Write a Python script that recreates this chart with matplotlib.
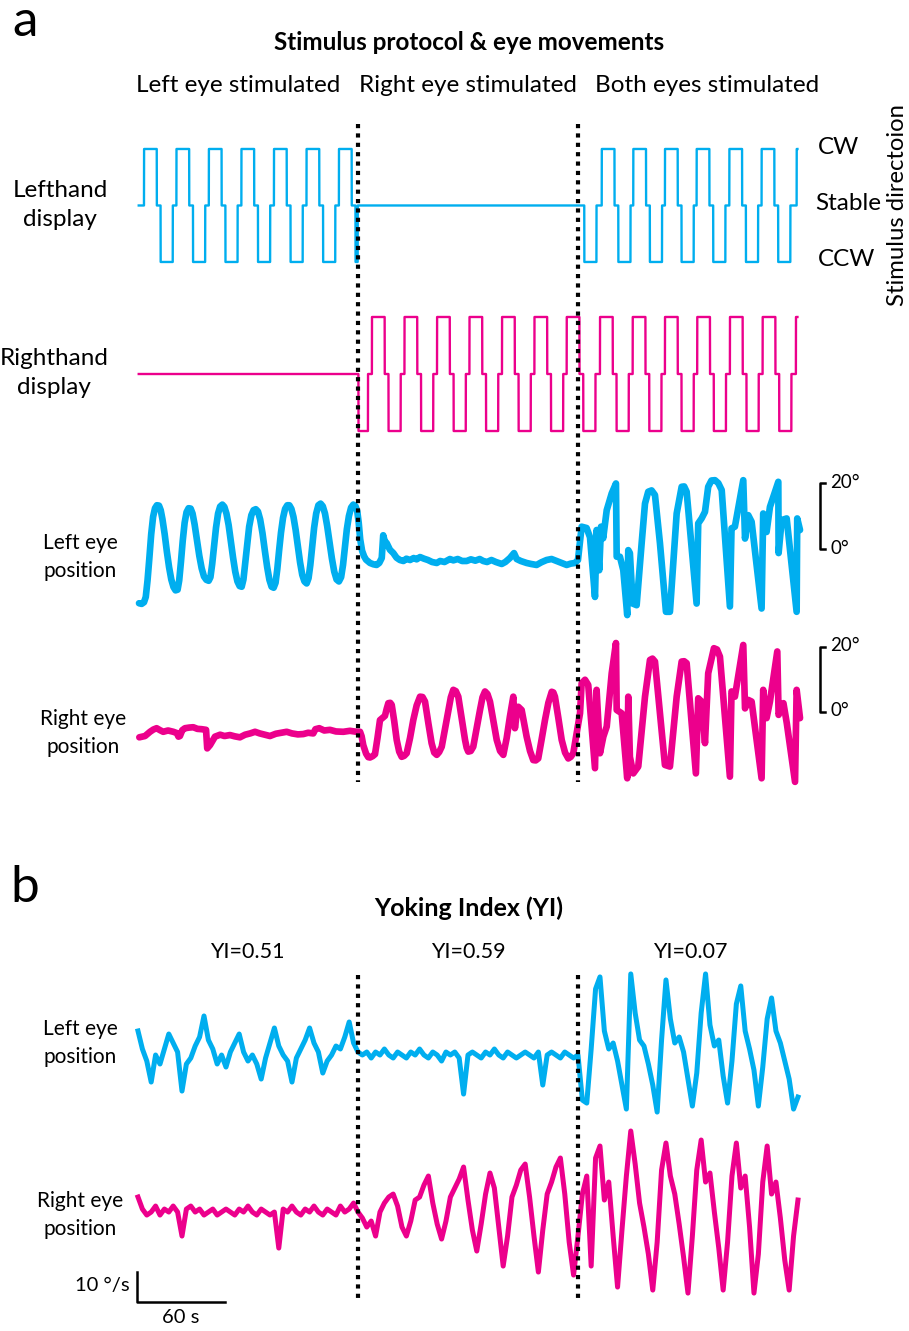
import numpy as np
import matplotlib.pyplot as plt

plt.rcParams['font.family'] = ['Lato', 'DejaVu Sans']

BLUE = '#00AEEF'
PINK = '#EC008C'

# ---- stimulus protocol (seconds) ----
phase_levels = [1, 0, -1, 0]          # CW, stable, CCW, stable
phase_secs = [8.7, 2.6, 8.3, 2.4]
left_cw_onsets = [4.1, 26.2, 48.3, 70.5, 92.7, 114.9, 137.0,
                  293.0, 316.2, 337.7, 359.3, 380.9, 403.2, 425.2, 449.1]
left_windows = [(0.0, 149.8), (302.0, 452.0)]
right_cw_onsets = [137.2, 159.5, 181.7, 203.9, 226.0, 248.2, 270.3,
                   292.3, 315.0, 337.3, 359.3, 381.3, 403.6, 425.9, 448.6]
right_windows = [(150.3, 452.0)]
block_bounds = [150, 300]

# ---- a: eye position (deg) ----
left_pos_t = [0.7, 2.5, 4.1, 5.3, 6.5, 7.7, 9.0, 10.3, 11.6, 12.9, 14.3, 15.5,
              16.7, 18.2, 19.7, 21.2, 22.7, 24.2, 25.6, 27.0, 28.1, 29.3, 30.5,
              31.8, 33.1, 34.5, 35.9, 37.2, 38.6, 40.2, 41.8, 43.4, 45.0, 46.6,
              48.2, 49.4, 50.6, 51.9, 53.2, 54.6, 56.0, 57.5, 58.9, 60.3, 61.8,
              63.3, 64.8, 66.3, 67.8, 69.3, 70.7, 71.9, 73.1, 74.4, 75.8, 77.3,
              78.8, 80.3, 81.8, 83.3, 84.9, 86.5, 88.1, 89.6, 91.1, 92.5, 93.8,
              95.0, 96.2, 97.5, 98.9, 100.3, 101.8, 103.2, 104.6, 106.0, 107.5,
              109.0, 110.5, 112.0, 113.5, 115.0, 116.3, 117.5, 118.8, 120.1, 121.5,
              123.0, 124.5, 126.0, 127.5, 129.0, 130.6, 132.2, 133.8, 135.4, 137.0,
              138.5, 139.8, 141.1, 142.4, 143.8, 145.3, 146.8, 148.3, 149.5, 150.5,
              151.5, 152.8, 154.2, 155.5, 158.2, 160.5, 162.7, 164.5, 166.2, 167.2,
              168.2, 169.6, 171.8, 174.1, 176.3, 178.6, 181.0, 183.0, 185.5, 188.0,
              190.0, 192.3, 195.0, 197.7, 200.5, 203.7, 206.0, 209.0, 212.7, 215.0,
              218.0, 221.0, 224.1, 227.0, 230.0, 233.0, 235.4, 238.0, 241.0, 244.0,
              248.0, 250.5, 253.6, 256.4, 258.2, 261.0, 265.0, 268.0, 271.8, 275.0,
              278.6, 282.0, 285.5, 289.0, 292.3, 295.0, 297.9, 300.0,
              302.5, 305.9, 308.2, 311.6, 312.7, 314.5, 315.7, 317.2, 319.6, 323.0,
              325.9, 326.4, 328.6, 330.9, 333.6, 334.3, 335.4, 337.3, 340.0, 343.4,
              345.7, 347.9, 350.2, 352.5, 355.9, 360.0, 362.7, 367.3, 370.7, 372.4,
              374.1, 380.9, 382.0, 384.3, 386.6, 388.8, 391.0, 393.4, 395.7, 398.0,
              403.6, 404.7, 407.0, 412.7, 413.9, 416.1, 418.4, 425.2, 426.3, 428.6,
              430.9, 436.6, 436.8, 438.9, 442.3, 449.1, 449.5, 451.4]
left_pos = [-16.4, -16.6, -16.1, -14.5, -9.5, -3.0, 4.5, 9.8, 12.4, 13.3, 13.2, 11.8,
            9.0, 4.5, -0.8, -5.5, -9.2, -11.5, -12.5, -12.3, -9.5, -3.8, 2.5,
            8.0, 11.2, 12.4, 12.3, 10.8, 7.5, 2.8, -2.0, -5.8, -8.3, -9.3,
            -9.6, -8.5, -4.5, 1.0, 6.5, 10.8, 12.9, 13.5, 12.8, 10.8, 7.3,
            2.5, -2.5, -6.8, -9.8, -11.2, -11.4, -9.2, -4.2, 1.5, 6.8, 10.3,
            11.8, 12.1, 11.4, 9.0, 4.8, -0.5, -5.5, -9.3, -11.4, -11.7, -10.2,
            -6.0, -0.5, 5.0, 9.5, 12.2, 13.3, 13.3, 12.2, 9.8, 5.8,
            0.8, -4.0, -7.8, -9.8, -10.4, -8.8, -4.8, 0.8, 6.5, 10.8,
            13.3, 13.8, 13.0, 10.8, 7.0, 2.2, -2.8, -6.8, -9.2, -9.8,
            -8.5, -4.8, 0.5, 6.0, 10.0, 12.6, 13.5, 13.0, 11.5, 8.0,
            3.0, -0.5, -2.2, -3.2, -4.2, -4.6, -4.8, -4.2, -2.7, 4.2,
            2.5, 1.8, -0.2, -1.2, -2.6, -3.3, -3.6, -2.9, -3.3, -2.7,
            -3.1, -2.4, -2.9, -3.3, -3.9, -4.2, -3.6, -3.9, -3.0, -3.4,
            -3.0, -3.6, -3.6, -3.1, -3.5, -3.0, -3.6, -3.9, -3.3, -3.9,
            -4.5, -3.9, -2.7, -1.2, -3.0, -3.6, -4.2, -4.5, -4.8, -4.0,
            -3.3, -3.0, -3.6, -4.2, -4.8, -4.4, -4.2, -3.3,
            6.8, 6.4, 3.6, -14.5, 5.8, -6.4, 6.8, 3.3, 11.8, 16.9,
            19.9, -2.3, -2.3, -6.4, -20.0, -0.3, -1.2, -16.5, -17.0, 1.7,
            13.8, 17.4, 17.8, 16.4, 1.8, -19.0, -19.0, 10.8, 18.9, 19.0,
            17.4, -16.5, 7.8, 9.3, 11.3, 18.9, 20.8, 20.9, 20.0, 17.9,
            -17.4, 6.3, 6.8, 20.9, 3.2, 10.3, 8.3, -18.0, 10.8, 5.2,
            12.8, 20.4, -1.2, 8.8, 9.3, -19.0, 9.3, 5.8]

right_pos_t = [0.9, 4.8, 8.2, 10.5, 12.7, 15.0, 17.2, 20.5, 24.1, 26.5, 27.6, 28.6,
               30.2, 32.0, 35.0, 37.7, 40.5, 43.4, 46.4, 47.2, 49.1, 52.5, 56.0,
               59.0, 62.7, 66.0, 69.5, 73.0, 76.5, 79.8, 83.0, 86.5, 90.0, 94.0,
               97.5, 101.4, 105.0, 109.0, 112.7, 116.0, 119.5, 121.0, 123.6, 127.0,
               130.9, 135.0, 140.0, 144.5, 149.1, 151.4,
               152.5, 153.6, 155.5, 157.0, 158.2, 160.0, 161.6, 163.3, 165.0, 166.8,
               168.4, 169.6, 170.7, 172.0, 173.0, 174.7, 176.4, 178.1, 179.8, 181.5,
               183.2, 185.5, 187.7, 190.0, 192.3, 194.0, 195.7, 198.0, 200.2, 202.0,
               203.7, 205.4, 207.1, 209.4, 211.6, 213.3, 215.0, 216.7, 218.4, 220.7,
               223.0, 224.1, 225.2, 226.9, 228.6, 230.9, 233.2, 234.9, 236.6, 238.3,
               240.0, 242.3, 244.6, 246.9, 249.1, 251.4, 253.6, 255.9, 257.0, 258.1,
               259.3, 261.6, 263.3, 265.0, 267.3, 269.5, 271.2, 272.9, 275.2, 277.5,
               279.8, 282.1, 283.2, 284.3, 286.6, 288.9, 291.2, 293.4, 295.1, 296.8,
               299.1, 301.4,
               302.5, 304.8, 307.0, 309.3, 311.6, 312.7, 315.0, 317.3, 319.6, 323.0,
               325.9, 326.4, 329.8, 333.6, 334.3, 335.4, 337.7, 341.1, 345.7, 349.1,
               350.8, 352.5, 355.9, 359.3, 362.7, 367.3, 370.7, 372.4, 374.1, 380.4,
               382.0, 384.3, 386.6, 388.8, 392.7, 394.8, 396.8, 403.6, 404.7, 407.0,
               412.7, 413.9, 416.1, 418.4, 425.2, 426.3, 428.6, 430.9, 435.9, 436.8,
               440.1, 442.4, 448.0, 449.1, 451.4]
right_pos = [-7.8, -7.4, -6.1, -5.4, -5.0, -5.6, -6.1, -5.7, -6.1, -6.5, -7.6, -7.4,
             -5.6, -5.0, -4.8, -4.7, -5.2, -5.3, -5.5, -11.2, -10.2, -7.6, -7.0,
             -7.4, -7.1, -7.5, -7.8, -7.0, -6.6, -6.1, -6.6, -7.0, -7.4, -6.7,
             -6.4, -6.1, -6.6, -6.9, -6.8, -6.4, -6.6, -5.3, -5.0, -5.7,
             -5.5, -6.0, -6.1, -5.8, -6.1, -6.1,
             -7.5, -10.2, -12.8, -13.9, -14.0, -13.6, -13.0, -8.0, -2.5, -1.8,
             -1.2, 1.0, 2.7, 2.8, 2.2, -2.8, -8.6, -12.2, -13.8, -13.5,
             -12.7, -8.0, -2.5, 2.0, 4.7, 4.6, 3.2, -3.5, -9.6, -12.5,
             -13.2, -12.3, -10.7, -5.0, 0.6, 4.5, 6.8, 6.4, 4.7, -2.0,
             -8.6, -11.0, -12.2, -12.0, -10.7, -5.0, 0.6, 4.5, 6.3, 5.5,
             3.2, -2.8, -8.6, -12.0, -13.2, -8.0, -1.4, 4.7, -5.0, -1.0,
             1.6, 0.6, -3.5, -7.6, -12.0, -14.8, -14.9, -14.3, -8.5, -2.5,
             2.8, 6.2, 6.0, 4.7, -1.8, -8.6, -12.5, -14.3, -13.8, -12.7,
             -6.5, -0.4,
             8.8, 9.9, 8.3, -4.5, -17.3, 6.8, -12.7, -7.6, -4.5, 11.9,
             21.2, 0.6, -0.4, -20.4, 4.7, -13.8, -18.9, -16.8, 4.7, 16.0,
             16.4, 15.5, -0.4, -16.3, -16.8, 4.7, 15.5, 15.6, 15.0, -18.9,
             4.2, 3.2, -9.6, 11.9, 19.6, 19.2, 17.0, -19.9, 6.3, 4.7,
             20.6, 1.1, 3.7, 3.2, -20.4, 6.8, -1.9, 3.2, 18.6, -0.9,
             2.7, -3.5, -21.5, 6.8, -1.9]

# ---- b: eye velocity (deg/s), one sample every 3 s ----
vel_step = 3.0
left_vel = [8, 2, -2, -9, 0, -3, 2, 7, 4, 1, -12, -3, -1, 3, 6, 13, 5, 2, -3, 0,
            -4, 1, 4, 7, 1, -2, 0, -3, -8, -1, 4, 9, 3, 0, -2, -9, -1, 2, 5, 9,
            4, 1, -6, -2, 0, 3, 2, 6, 11, 4, 1,
            0, 1, -1, 1, 0, 2, 0, -1, 1, 0, -1, 1, 0, 2, 0, -1, 1, 0, -2, 1,
            0, 1, -1, -13, 0, 1, 0, -1, 1, 0, 2, 0, -1, 1, 0, -1, 0, 1, 0, -1,
            1, -10, 0, 1, 0, -1, 1, 0, -1, 0,
            -15, -16, 2, 22, 26, 8, 2, 4, -2, -10, -18, 27, 14, 5, 3, -3, -10, -19,
            5, 25, 12, 4, 6, 1, -8, -17, -6, 14, 27, 10, 3, 5, -7, -16, -2, 17,
            23, 8, 2, -5, -17, -4, 12, 19, 8, 4, -2, -8, -18, -14]
right_vel = [5, 1, -1, 0, 2, -1, 1, 0, 2, 0, -8, 1, 2, 0, 1, -1, 0, 1, -1, 0,
             1, 0, -1, 1, 0, 2, 0, -1, 1, 0, -1, 0, -12, 1, 0, 2, 0, -1, 1, 0,
             2, 0, -1, 1, 0, -1, 2, 0, 1, 3, 0,
             -2, -5, -3, -8, 0, 3, 5, 6, 2, -5, -8, -3, 4, 5, 9, 12, 3, -4, -9, -3,
             5, 8, 11, 15, 4, -6, -13, -4, 6, 13, 8, -5, -18, -8, 5, 9, 14, 16, 5, -8,
             -20, -6, 6, 10, 15, 18, 6, -10, -21, -8,
             6, 12, -18, 18, 22, 4, 10, -8, -25, -6, 12, 27, 16, 3, -5, -14, -26, -10,
             14, 23, 12, 6, -4, -15, -27, -8, 14, 24, 10, 13, 0, -12, -26, -10, 12, 23,
             8, 12, -5, -27, -14, 10, 22, 6, 10, -2, -16, -26, -8, 4]

yi_labels = ['YI=0.51', 'YI=0.59', 'YI=0.07']
block_names = ['Left eye stimulated', 'Right eye stimulated', 'Both eyes stimulated']


def display_level(t, onsets, windows):
    lvl = np.zeros_like(t)
    for on in onsets:
        edges = on + np.concatenate([[0], np.cumsum(phase_secs)])
        for k, v in enumerate(phase_levels):
            lvl[(t >= edges[k]) & (t < edges[k + 1])] = v
    active = np.zeros_like(t, dtype=bool)
    for a, b in windows:
        active |= (t >= a) & (t < b)
    lvl[~active] = 0
    return lvl


W, H = 909, 1331
fig = plt.figure(figsize=(W / 100, H / 100), dpi=100)
T0, T1 = -5.45, 454.8


def trace_ax(top, bottom, ylo, yhi):
    ax = fig.add_axes([130 / W, 1 - bottom / H, 675 / W, (bottom - top) / H])
    ax.set_xlim(T0, T1)
    ax.set_ylim(ylo, yhi)
    ax.axis('off')
    return ax


def ftext(x, y, s, **kw):
    kw.setdefault('ha', 'center')
    kw.setdefault('va', 'center')
    fig.text(x / W, 1 - y / H, s, **kw)


# stimulus displays
t_grid = np.arange(0.5, 449.65, 0.02)
ax_ld = trace_ax(130, 280, -1.319, 1.336)
ax_ld.plot(t_grid, display_level(t_grid, left_cw_onsets, left_windows),
           color=BLUE, lw=1.7)
ax_rd = trace_ax(300, 450, -1.333, 1.298)
ax_rd.plot(t_grid, display_level(t_grid, right_cw_onsets, right_windows),
           color=PINK, lw=1.7)

# eye positions
ax_lp = trace_ax(465, 625, -23.0, 25.5)
ax_lp.plot(left_pos_t, left_pos, color=BLUE, lw=4.8, solid_joinstyle='round',
           solid_capstyle='round')
ax_rp = trace_ax(630, 790, -24.0, 25.2)
ax_rp.plot(right_pos_t, right_pos, color=PINK, lw=4.8, solid_joinstyle='round',
           solid_capstyle='round')
for ax in (ax_lp, ax_rp):
    ax.plot([468.4, 465, 465, 468.4], [20, 20, 0, 0], color='black', lw=1.8,
            clip_on=False)
    ax.text(472.0, 20.3, '20°', ha='left', va='center', fontsize=13.5)
    ax.text(472.0, 0.3, '0°', ha='left', va='center', fontsize=13.5)

# eye velocities
vel_t = np.arange(len(left_vel)) * vel_step
ax_lv = trace_ax(955, 1125, -23.3, 33.3)
ax_lv.plot(vel_t, left_vel, color=BLUE, lw=3.6, solid_joinstyle='round')
ax_rv = trace_ax(1125, 1315, -34.3, 29.0)
ax_rv.plot(vel_t, right_vel, color=PINK, lw=3.6, solid_joinstyle='round')
ax_rv.plot([-0.7, -0.7, 59.3], [-20, -30, -30], color='black', lw=1.8,
           clip_on=False)
ax_rv.text(-6.0, -24.5, '10 °/s', ha='right', va='center', fontsize=14.5)
ax_rv.text(29.3, -32.3, '60 s', ha='center', va='top', fontsize=14.5)

# block boundaries
ax_ov = fig.add_axes([130 / W, 0, 675 / W, 1], zorder=10)
ax_ov.set_xlim(T0, T1)
ax_ov.set_ylim(H, 0)
ax_ov.axis('off')
for y0, y1 in [(124, 782), (975, 1302)]:
    ax_ov.vlines(block_bounds, y0, y1, colors='black', lw=3.0,
                 linestyles=[(0, (1.0, 1.25))])

# text
ftext(25, 22, 'a', fontsize=37)
ftext(25, 888, 'b', fontsize=37)
ftext(469, 42, 'Stimulus protocol & eye movements', fontsize=17.5,
      fontweight='bold')
for cx, name in zip([238, 468, 707], block_names):
    ftext(cx, 86, name, fontsize=17.5)
ftext(60, 205, 'Lefthand\ndisplay', fontsize=17.5, linespacing=1.42)
ftext(54, 373, 'Righthand\ndisplay', fontsize=17.5, linespacing=1.42)
ftext(818, 147, 'CW', ha='left', fontsize=17.5)
ftext(815, 204, 'Stable', ha='left', fontsize=17.5)
ftext(818, 260, 'CCW', ha='left', fontsize=17.5)
ftext(897, 205, 'Stimulus directoion', rotation=90, fontsize=17.2)
ftext(80, 557, 'Left eye\nposition', fontsize=15, linespacing=1.55)
ftext(83, 733, 'Right eye\nposition', fontsize=15, linespacing=1.55)
ftext(469, 908, 'Yoking Index (YI)', fontsize=18, fontweight='bold')
for cx, s in zip([247, 468, 690], yi_labels):
    ftext(cx, 952, s, fontsize=15.5)
ftext(80, 1043, 'Left eye\nposition', fontsize=15, linespacing=1.55)
ftext(80, 1215, 'Right eye\nposition', fontsize=15, linespacing=1.55)

fig.savefig('out.png', dpi=100, facecolor='white')
